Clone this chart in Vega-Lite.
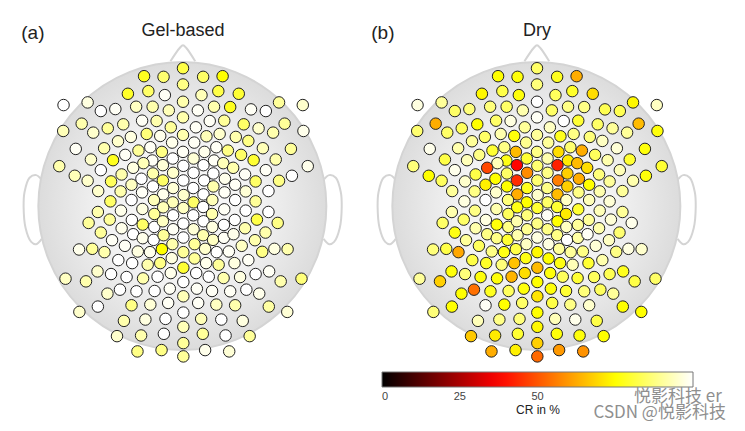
{"$schema":"https://vega.github.io/schema/vega-lite/v6.json","background":"white","padding":{"left":18,"top":21,"right":0,"bottom":0},
"config":{"view":{"stroke":null},"font":"Liberation Sans"},
"datasets":{
"outline":[
{"part":"nose","o":1,"x":-38,"y":436},{"part":"nose","o":2,"x":-10,"y":476},{"part":"nose","o":3,"x":0,"y":484},{"part":"nose","o":4,"x":10,"y":476},{"part":"nose","o":5,"x":37,"y":436},
{"part":"earL","o":1,"x":-430,"y":81},{"part":"earL","o":2,"x":-445,"y":93},{"part":"earL","o":3,"x":-465,"y":85},{"part":"earL","o":4,"x":-480,"y":43},{"part":"earL","o":5,"x":-483,"y":-2},{"part":"earL","o":6,"x":-477,"y":-66},{"part":"earL","o":7,"x":-460,"y":-108},{"part":"earL","o":8,"x":-445,"y":-115},{"part":"earL","o":9,"x":-428,"y":-99},
{"part":"earR","o":1,"x":428,"y":81},{"part":"earR","o":2,"x":443,"y":93},{"part":"earR","o":3,"x":463,"y":85},{"part":"earR","o":4,"x":478,"y":43},{"part":"earR","o":5,"x":481,"y":-2},{"part":"earR","o":6,"x":475,"y":-66},{"part":"earR","o":7,"x":458,"y":-108},{"part":"earR","o":8,"x":443,"y":-115},{"part":"earR","o":9,"x":426,"y":-99}],
"electrodes":[
{"x":0,"y":415,"gel":82,"dry":85},{"x":-118,"y":391,"gel":78,"dry":75},{"x":-59,"y":389,"gel":86,"dry":76},{"x":61,"y":389,"gel":85,"dry":78},{"x":120,"y":391,"gel":75,"dry":63},{"x":0,"y":366,"gel":88,"dry":87},{"x":-167,"y":338,"gel":79,"dry":74},{"x":-105,"y":346,"gel":85,"dry":82},{"x":-55,"y":334,"gel":99,"dry":76},{"x":56,"y":334,"gel":93,"dry":84},{"x":107,"y":346,"gel":82,"dry":79},{"x":169,"y":338,"gel":80,"dry":70},
{"x":-362,"y":304,"gel":100,"dry":97},{"x":-289,"y":312,"gel":97,"dry":90},{"x":-249,"y":286,"gel":100,"dry":85},{"x":-205,"y":292,"gel":99,"dry":87},{"x":-142,"y":299,"gel":94,"dry":87},{"x":-92,"y":299,"gel":92,"dry":85},{"x":-43,"y":288,"gel":93,"dry":92},{"x":0,"y":314,"gel":92,"dry":100},{"x":45,"y":288,"gel":99,"dry":85},{"x":94,"y":299,"gel":92,"dry":88},{"x":143,"y":298,"gel":78,"dry":88},{"x":206,"y":291,"gel":99,"dry":83},{"x":251,"y":286,"gel":100,"dry":83},{"x":291,"y":312,"gel":90,"dry":74},{"x":363,"y":304,"gel":95,"dry":94},
{"x":-124,"y":257,"gel":99,"dry":85},{"x":-80,"y":256,"gel":92,"dry":97},{"x":0,"y":267,"gel":92,"dry":99},{"x":-37,"y":237,"gel":90,"dry":90},{"x":39,"y":237,"gel":99,"dry":94},{"x":81,"y":256,"gel":99,"dry":100},{"x":125,"y":257,"gel":90,"dry":80},{"x":184,"y":246,"gel":85,"dry":85},{"x":229,"y":234,"gel":95,"dry":90},{"x":273,"y":221,"gel":92,"dry":90},{"x":308,"y":248,"gel":90,"dry":65},{"x":365,"y":226,"gel":98,"dry":76},{"x":-307,"y":248,"gel":92,"dry":63},{"x":-363,"y":226,"gel":93,"dry":86},{"x":-272,"y":221,"gel":95,"dry":85},{"x":-228,"y":234,"gel":90,"dry":84},{"x":-181,"y":246,"gel":92,"dry":75},
{"x":-197,"y":195,"gel":95,"dry":90},{"x":-158,"y":208,"gel":97,"dry":85},{"x":-110,"y":217,"gel":87,"dry":92},{"x":-69,"y":211,"gel":98,"dry":76},{"x":-33,"y":191,"gel":98,"dry":89},{"x":0,"y":214,"gel":92,"dry":90},{"x":34,"y":191,"gel":99,"dry":90},{"x":71,"y":210,"gel":93,"dry":78},{"x":111,"y":217,"gel":95,"dry":88},{"x":160,"y":208,"gel":92,"dry":87},{"x":198,"y":196,"gel":88,"dry":94},
{"x":-325,"y":172,"gel":99,"dry":98},{"x":-239,"y":174,"gel":92,"dry":92},{"x":-175,"y":154,"gel":99,"dry":88},{"x":-135,"y":167,"gel":90,"dry":80},{"x":-99,"y":177,"gel":99,"dry":88},{"x":-64,"y":163,"gel":88,"dry":65},{"x":0,"y":163,"gel":99,"dry":88},{"x":65,"y":163,"gel":98,"dry":70},{"x":101,"y":177,"gel":99,"dry":86},{"x":136,"y":167,"gel":88,"dry":63},{"x":176,"y":154,"gel":85,"dry":84},{"x":242,"y":174,"gel":93,"dry":96},{"x":327,"y":172,"gel":90,"dry":76},
{"x":-279,"y":140,"gel":95,"dry":82},{"x":-212,"y":138,"gel":78,"dry":93},{"x":-93,"y":137,"gel":99,"dry":77},{"x":-31,"y":143,"gel":100,"dry":80},{"x":32,"y":143,"gel":96,"dry":92},{"x":94,"y":137,"gel":99,"dry":72},{"x":214,"y":138,"gel":80,"dry":92},{"x":281,"y":140,"gel":92,"dry":80},{"x":-375,"y":120,"gel":92,"dry":87},{"x":378,"y":120,"gel":98,"dry":80},{"x":-120,"y":129,"gel":93,"dry":93},{"x":122,"y":129,"gel":93,"dry":65},{"x":-151,"y":115,"gel":97,"dry":48},{"x":152,"y":115,"gel":92,"dry":70},{"x":-61,"y":123,"gel":96,"dry":38},{"x":1,"y":121,"gel":100,"dry":86},{"x":62,"y":123,"gel":100,"dry":42},
{"x":-249,"y":108,"gel":100,"dry":98},{"x":251,"y":108,"gel":99,"dry":93},{"x":-328,"y":91,"gel":93,"dry":75},{"x":330,"y":91,"gel":100,"dry":76},{"x":-186,"y":95,"gel":92,"dry":82},{"x":188,"y":95,"gel":99,"dry":87},{"x":-91,"y":98,"gel":92,"dry":85},{"x":-30,"y":100,"gel":95,"dry":58},{"x":32,"y":100,"gel":100,"dry":88},{"x":92,"y":98,"gel":100,"dry":68},
{"x":-289,"y":76,"gel":95,"dry":84},{"x":-218,"y":74,"gel":84,"dry":95},{"x":-126,"y":82,"gel":100,"dry":75},{"x":-156,"y":64,"gel":94,"dry":73},{"x":-61,"y":77,"gel":85,"dry":44},{"x":1,"y":77,"gel":100,"dry":86},{"x":64,"y":77,"gel":100,"dry":56},{"x":127,"y":82,"gel":98,"dry":63},{"x":220,"y":74,"gel":85,"dry":90},{"x":291,"y":76,"gel":88,"dry":92},{"x":-91,"y":59,"gel":100,"dry":75},{"x":-30,"y":54,"gel":96,"dry":78},{"x":31,"y":54,"gel":100,"dry":88},{"x":92,"y":59,"gel":92,"dry":68},{"x":158,"y":64,"gel":99,"dry":75},
{"x":-257,"y":45,"gel":95,"dry":90},{"x":-189,"y":44,"gel":92,"dry":88},{"x":-124,"y":41,"gel":99,"dry":95},{"x":-60,"y":35,"gel":98,"dry":63},{"x":2,"y":33,"gel":95,"dry":95},{"x":62,"y":35,"gel":100,"dry":65},{"x":126,"y":41,"gel":99,"dry":88},{"x":190,"y":44,"gel":96,"dry":92},{"x":259,"y":45,"gel":100,"dry":90},
{"x":-220,"y":14,"gel":85,"dry":97},{"x":-156,"y":18,"gel":100,"dry":100},{"x":-88,"y":18,"gel":93,"dry":87},{"x":-31,"y":11,"gel":93,"dry":75},{"x":32,"y":11,"gel":85,"dry":85},{"x":89,"y":18,"gel":93,"dry":94},{"x":158,"y":18,"gel":100,"dry":93},{"x":220,"y":14,"gel":90,"dry":96},
{"x":-258,"y":-18,"gel":92,"dry":92},{"x":-188,"y":-14,"gel":98,"dry":88},{"x":-123,"y":-9,"gel":97,"dry":92},{"x":-87,"y":-24,"gel":90,"dry":84},{"x":-60,"y":-4,"gel":93,"dry":77},{"x":-30,"y":-28,"gel":100,"dry":87},{"x":1,"y":-6,"gel":94,"dry":80},{"x":31,"y":-28,"gel":100,"dry":99},{"x":61,"y":-3,"gel":100,"dry":80},{"x":88,"y":-24,"gel":92,"dry":72},{"x":125,"y":-10,"gel":99,"dry":80},{"x":190,"y":-14,"gel":100,"dry":93},{"x":259,"y":-18,"gel":100,"dry":90},
{"x":-286,"y":-51,"gel":90,"dry":85},{"x":-222,"y":-41,"gel":90,"dry":85},{"x":-155,"y":-42,"gel":100,"dry":97},{"x":-122,"y":-56,"gel":85,"dry":76},{"x":-87,"y":-63,"gel":100,"dry":88},{"x":-61,"y":-46,"gel":94,"dry":92},{"x":-30,"y":-70,"gel":99,"dry":89},{"x":1,"y":-53,"gel":100,"dry":88},{"x":32,"y":-70,"gel":96,"dry":88},{"x":62,"y":-46,"gel":100,"dry":75},{"x":89,"y":-63,"gel":97,"dry":94},{"x":124,"y":-57,"gel":100,"dry":90},{"x":157,"y":-42,"gel":100,"dry":90},{"x":188,"y":-67,"gel":92,"dry":92},{"x":224,"y":-41,"gel":82,"dry":96},{"x":287,"y":-51,"gel":88,"dry":98},
{"x":-186,"y":-67,"gel":98,"dry":92},{"x":-151,"y":-85,"gel":100,"dry":88},{"x":-122,"y":-97,"gel":98,"dry":88},{"x":-89,"y":-102,"gel":100,"dry":80},{"x":-59,"y":-88,"gel":90,"dry":92},{"x":-32,"y":-115,"gel":92,"dry":94},{"x":1,"y":-95,"gel":100,"dry":97},{"x":35,"y":-115,"gel":90,"dry":97},{"x":61,"y":-88,"gel":92,"dry":88},{"x":91,"y":-102,"gel":94,"dry":100},{"x":124,"y":-96,"gel":99,"dry":91},{"x":153,"y":-85,"gel":98,"dry":99},{"x":218,"y":-103,"gel":92,"dry":94},{"x":250,"y":-80,"gel":92,"dry":86},{"x":-249,"y":-80,"gel":90,"dry":77},
{"x":-215,"y":-103,"gel":99,"dry":90},{"x":-176,"y":-120,"gel":99,"dry":84},{"x":-137,"y":-137,"gel":97,"dry":88},{"x":-100,"y":-139,"gel":98,"dry":77},{"x":-64,"y":-130,"gel":75,"dry":82},{"x":1,"y":-139,"gel":90,"dry":74},{"x":67,"y":-129,"gel":95,"dry":90},{"x":102,"y":-139,"gel":100,"dry":90},{"x":139,"y":-137,"gel":99,"dry":88},{"x":178,"y":-120,"gel":94,"dry":96},{"x":240,"y":-138,"gel":88,"dry":88},{"x":277,"y":-129,"gel":97,"dry":97},{"x":317,"y":-130,"gel":92,"dry":95},{"x":-315,"y":-131,"gel":98,"dry":87},{"x":-275,"y":-129,"gel":90,"dry":82},{"x":-238,"y":-139,"gel":92,"dry":62},
{"x":-196,"y":-163,"gel":100,"dry":82},{"x":-154,"y":-172,"gel":100,"dry":79},{"x":-107,"y":-177,"gel":92,"dry":87},{"x":-69,"y":-172,"gel":88,"dry":66},{"x":-34,"y":-157,"gel":97,"dry":77},{"x":35,"y":-158,"gel":90,"dry":75},{"x":70,"y":-172,"gel":98,"dry":77},{"x":108,"y":-177,"gel":90,"dry":93},{"x":156,"y":-172,"gel":97,"dry":80},{"x":198,"y":-163,"gel":99,"dry":92},{"x":1,"y":-186,"gel":80,"dry":65},
{"x":-259,"y":-197,"gel":95,"dry":76},{"x":-218,"y":-205,"gel":100,"dry":87},{"x":-171,"y":-214,"gel":100,"dry":76},{"x":-121,"y":-218,"gel":92,"dry":76},{"x":-77,"y":-213,"gel":100,"dry":64},{"x":-37,"y":-202,"gel":98,"dry":70},{"x":40,"y":-202,"gel":100,"dry":76},{"x":78,"y":-213,"gel":100,"dry":84},{"x":123,"y":-217,"gel":92,"dry":80},{"x":173,"y":-214,"gel":97,"dry":84},{"x":220,"y":-205,"gel":100,"dry":83},{"x":261,"y":-197,"gel":99,"dry":78},{"x":-356,"y":-219,"gel":94,"dry":90},{"x":-294,"y":-227,"gel":92,"dry":68},{"x":296,"y":-227,"gel":92,"dry":82},{"x":359,"y":-219,"gel":87,"dry":85},{"x":1,"y":-229,"gel":100,"dry":75},
{"x":-229,"y":-264,"gel":95,"dry":75},{"x":-191,"y":-252,"gel":100,"dry":54},{"x":-141,"y":-257,"gel":100,"dry":78},{"x":-86,"y":-256,"gel":100,"dry":84},{"x":-40,"y":-249,"gel":99,"dry":76},{"x":42,"y":-249,"gel":99,"dry":76},{"x":88,"y":-256,"gel":99,"dry":80},{"x":143,"y":-257,"gel":99,"dry":87},{"x":192,"y":-252,"gel":100,"dry":84},{"x":231,"y":-264,"gel":98,"dry":90},{"x":1,"y":-272,"gel":93,"dry":71},
{"x":-258,"y":-303,"gel":100,"dry":75},{"x":-156,"y":-299,"gel":88,"dry":99},{"x":-99,"y":-297,"gel":96,"dry":75},{"x":-45,"y":-292,"gel":99,"dry":85},{"x":46,"y":-292,"gel":99,"dry":82},{"x":101,"y":-297,"gel":94,"dry":88},{"x":158,"y":-299,"gel":92,"dry":95},{"x":260,"y":-303,"gel":91,"dry":75},{"x":-314,"y":-319,"gel":95,"dry":87},{"x":316,"y":-319,"gel":96,"dry":75},{"x":1,"y":-321,"gel":100,"dry":75},
{"x":-179,"y":-346,"gel":92,"dry":93},{"x":-114,"y":-342,"gel":97,"dry":88},{"x":-53,"y":-340,"gel":100,"dry":87},{"x":55,"y":-340,"gel":93,"dry":93},{"x":116,"y":-342,"gel":100,"dry":98},{"x":181,"y":-346,"gel":97,"dry":82},{"x":1,"y":-364,"gel":93,"dry":74},
{"x":-200,"y":-392,"gel":95,"dry":67},{"x":-127,"y":-390,"gel":92,"dry":72},{"x":-58,"y":-385,"gel":100,"dry":80},{"x":60,"y":-385,"gel":90,"dry":76},{"x":129,"y":-390,"gel":100,"dry":76},{"x":202,"y":-392,"gel":90,"dry":75},{"x":1,"y":-413,"gel":90,"dry":68},{"x":-138,"y":-438,"gel":88,"dry":63},{"x":-65,"y":-434,"gel":88,"dry":73},{"x":67,"y":-434,"gel":98,"dry":60},{"x":140,"y":-438,"gel":96,"dry":59},{"x":1,"y":-453,"gel":90,"dry":53}]
},
"spacing":23,
"hconcat":[
{"width":330,"height":332,
"layer":[
{"data":{"name":"outline"},"mark":{"type":"line","interpolate":"catmull-rom","stroke":"#d4d4d4","strokeWidth":2,"clip":false},"encoding":{"x":{"field":"x","type":"quantitative","scale":{"domain":[-495,495]},"axis":null},"y":{"field":"y","type":"quantitative","scale":{"domain":[-498,498]},"axis":null},"detail":{"field":"part"},"order":{"field":"o"}}},
{"data":{"values":[{"x":-2,"y":0}]},"mark":{"type":"point","shape":"circle","filled":true,"size":82944,"opacity":1,"stroke":"#d4d4d4","strokeWidth":2,"fill":{"gradient":"radial","x1":0.5,"y1":0.5,"r1":0,"x2":0.5,"y2":0.5,"r2":0.5,"stops":[{"offset":0,"color":"#fafafa"},{"offset":0.55,"color":"#f2f2f2"},{"offset":1,"color":"#dcdcdc"}]}},"encoding":{"x":{"field":"x","type":"quantitative"},"y":{"field":"y","type":"quantitative"}}},
{"data":{"name":"electrodes"},"mark":{"type":"point","shape":"circle","filled":true,"size":132,"opacity":1,"stroke":"#222222","strokeWidth":1},"encoding":{"x":{"field":"x","type":"quantitative"},"y":{"field":"y","type":"quantitative"},"fill":{"field":"gel","type":"quantitative","title":"CR in %","scale":{"domain":[0,37.5,75,100],"range":["#000000","#ff0000","#ffff00","#ffffff"],"interpolate":"rgb"},"legend":null}}},
{"data":{"values":[{"x":-455,"y":522,"label":"(a)","s":"l"},{"x":0,"y":528,"label":"Gel-based","s":"t"}]},"mark":{"type":"text","color":"#222222","font":"Liberation Sans"},"encoding":{"x":{"field":"x","type":"quantitative"},"y":{"field":"y","type":"quantitative"},"text":{"field":"label"},"size":{"field":"s","type":"nominal","scale":{"domain":["l","t"],"range":[19,18]},"legend":null}}}
]},
{"width":330,"height":332,
"layer":[
{"data":{"name":"outline"},"mark":{"type":"line","interpolate":"catmull-rom","stroke":"#d4d4d4","strokeWidth":2,"clip":false},"encoding":{"x":{"field":"x","type":"quantitative","scale":{"domain":[-495,495]},"axis":null},"y":{"field":"y","type":"quantitative","scale":{"domain":[-498,498]},"axis":null},"detail":{"field":"part"},"order":{"field":"o"}}},
{"data":{"values":[{"x":-2,"y":0}]},"mark":{"type":"point","shape":"circle","filled":true,"size":82944,"opacity":1,"stroke":"#d4d4d4","strokeWidth":2,"fill":{"gradient":"radial","x1":0.5,"y1":0.5,"r1":0,"x2":0.5,"y2":0.5,"r2":0.5,"stops":[{"offset":0,"color":"#fafafa"},{"offset":0.55,"color":"#f2f2f2"},{"offset":1,"color":"#dcdcdc"}]}},"encoding":{"x":{"field":"x","type":"quantitative"},"y":{"field":"y","type":"quantitative"}}},
{"data":{"name":"electrodes"},"mark":{"type":"point","shape":"circle","filled":true,"size":132,"opacity":1,"stroke":"#222222","strokeWidth":1},"encoding":{"x":{"field":"x","type":"quantitative"},"y":{"field":"y","type":"quantitative"},"fill":{"field":"dry","type":"quantitative","title":"CR in %","scale":{"domain":[0,37.5,75,100],"range":["#000000","#ff0000","#ffff00","#ffffff"],"interpolate":"rgb"},"legend":{"orient":"none","legendX":10,"legendY":332,"direction":"horizontal","gradientLength":311,"gradientThickness":15,"gradientStrokeColor":"#777777","gradientStrokeWidth":1,"values":[0,25,50],"labelFontSize":11,"labelColor":"#444444","labelFont":"Liberation Sans","labelOffset":4,"titleOrient":"bottom","titleAnchor":"middle","titleFontSize":12,"titleFontWeight":"normal","titleColor":"#222222","titleFont":"Liberation Sans","titlePadding":3,"encode":{"labels":{"update":{"align":{"value":"center"}}}}}}}},
{"data":{"values":[{"x":-467,"y":522,"label":"(b)","s":"l"},{"x":0,"y":528,"label":"Dry","s":"t"}]},"mark":{"type":"text","color":"#222222","font":"Liberation Sans"},"encoding":{"x":{"field":"x","type":"quantitative"},"y":{"field":"y","type":"quantitative"},"text":{"field":"label"},"size":{"field":"s","type":"nominal","scale":{"domain":["l","t"],"range":[19,18]},"legend":null}}},
{"data":{"values":[{"x":372,"y":-624,"label":"CSDN @悦影科技"},{"x":427,"y":-574,"label":"悦影科技 er"}]},"mark":{"type":"text","fontSize":17,"color":"#8f8f8f","font":"Noto Sans CJK SC","clip":false},"encoding":{"x":{"field":"x","type":"quantitative"},"y":{"field":"y","type":"quantitative"},"text":{"field":"label"}}}
]}
],
"resolve":{"scale":{"fill":"independent","size":"independent"}}
}
